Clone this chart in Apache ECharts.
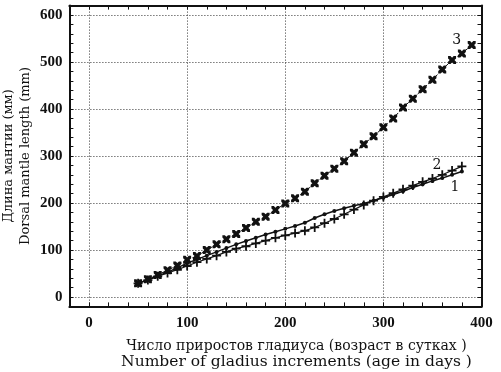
<!DOCTYPE html>
<html>
<head>
<meta charset="utf-8">
<script src="https://cdn.jsdelivr.net/npm/echarts@6/dist/echarts.min.js"></script>
<style>
  html, body { margin: 0; padding: 0; background: #fff; }
  #chart { width: 501px; height: 372px; }
</style>
</head>
<body>
<div id="chart"></div>
<script>
// age in days (x) for each curve
const days3 = [50,60,70,80,90,100,110,120,130,140,150,160,170,180,190,200,210,220,230,240,250,260,270,280,290,300,310,320,330,340,350,360,370,380,390]
const days12 = [50,60,70,80,90,100,110,120,130,140,150,160,170,180,190,200,210,220,230,240,250,260,270,280,290,300,310,320,330,340,350,360,370,380]
// dorsal mantle length, mm
const len1 = [29,37,45,53,62,72,80,88,96,104,112,119,126,133,139,145,151,158,168,176,183,189,194,199,205,211,218,225,233,240,247,253,260,267]
const len2 = [29,36,44,51,58,66,74,81,88,96,103,108,114,120,126,131,136,141,148,157,166,176,186,196,205,213,221,229,237,245,252,260,269,278]
const len3 = [29,38,47,57,67,79,87,100,112,123,134,147,160,171,185,199,210,224,242,258,273,289,307,325,342,361,380,403,422,442,462,484,504,518,536]
const curveNames = ['1', '2', '3']

const ink = '#111'
const serif = 'DejaVu Serif'

function pairs(xs, ys, name, offset) {
  return xs.map((x, i) => {
    const p = { value: [x, ys[i]] }
    if (i === xs.length - 1) {
      p.label = {
        show: true, formatter: name, position: 'inside', offset: offset,
        color: ink, fontFamily: serif, fontSize: 14
      }
    }
    return p
  })
}

// every 5th tick (multiples of 100) gets a dotted grid line
const gridColors = ['rgba(0,0,0,0)', '#333', 'rgba(0,0,0,0)', 'rgba(0,0,0,0)', 'rgba(0,0,0,0)']
const tickLabel = function (v) { return v >= 0 && v % 100 === 0 ? String(v) : '' }

const frameAxis = {
  axisLine: { show: true, onZero: false, lineStyle: { color: ink, width: 2 } },
  axisTick: { show: true, inside: true, length: 4, lineStyle: { color: ink } },
  axisLabel: { show: false },
  splitLine: { show: false }
}

const myChart = echarts.init(document.getElementById('chart'))
const option = {
  animation: false,
  grid: { left: 69.4, right: 19.5, top: 5.6, bottom: 65.6, outerBoundsMode: 'none', containLabel: false },
  xAxis: [
    {
      type: 'value', min: -20, max: 400, interval: 20,
      axisLine: { show: true, onZero: false, lineStyle: { color: ink, width: 2 } },
      axisTick: { show: true, inside: true, length: 4, lineStyle: { color: ink } },
      axisLabel: {
        formatter: tickLabel, color: ink, fontFamily: 'Liberation Serif',
        fontWeight: 'bold', fontSize: 15, margin: 9
      },
      splitLine: { show: true, lineStyle: { color: gridColors, type: [1, 2], width: 1 } },
      name: '{a|Число приростов гладиуса (возраст в сутках )}\n{b|Number of gladius increments (age in days )}',
      nameLocation: 'middle',
      nameGap: 32,
      nameTextStyle: {
        color: ink, fontFamily: serif, fontSize: 14, lineHeight: 16,
        padding: [0, 0, 0, 42],
        rich: {
          a: { fontFamily: serif, fontSize: 14, lineHeight: 16, color: ink },
          b: { fontFamily: serif, fontSize: 15.5, lineHeight: 16, color: ink }
        }
      }
    },
    Object.assign({ type: 'value', min: -20, max: 400, interval: 20, position: 'top' }, frameAxis)
  ],
  yAxis: [
    {
      type: 'value', min: -20, max: 620, interval: 20,
      axisLine: { show: true, onZero: false, lineStyle: { color: ink, width: 2 } },
      axisTick: { show: true, inside: true, length: 4, lineStyle: { color: ink } },
      axisLabel: {
        formatter: tickLabel, color: ink, fontFamily: 'Liberation Serif',
        fontWeight: 'bold', fontSize: 15, margin: 7
      },
      splitLine: { show: true, lineStyle: { color: gridColors, type: [1, 2], width: 1 } },
      name: 'Длина мантии (мм)\nDorsal mantle length (mm)',
      nameLocation: 'middle',
      nameRotate: 90,
      nameGap: 35,
      nameMoveOverlap: false,
      nameTextStyle: { color: ink, fontFamily: serif, fontSize: 13, lineHeight: 17 }
    },
    Object.assign({ type: 'value', min: -20, max: 620, interval: 20, position: 'right' }, frameAxis)
  ],
  series: [
    {
      name: curveNames[0], type: 'line',
      data: pairs(days12, len1, curveNames[0], [-7, 16]),
      symbol: 'circle', symbolSize: 4,
      itemStyle: { color: ink },
      lineStyle: { color: ink, width: 1.5 }
    },
    {
      name: curveNames[1], type: 'line',
      data: pairs(days12, len2, curveNames[1], [-25, -1]),
      symbol: 'path://M4,0H6V4H10V6H6V10H4V6H0V4H4Z', symbolSize: 9,
      itemStyle: { color: ink },
      lineStyle: { color: ink, width: 1.2 }
    },
    {
      name: curveNames[2], type: 'line',
      data: pairs(days3, len3, curveNames[2], [-15, -5]),
      symbol: 'path://M0,0L3,0L5,2L7,0L10,0L10,3L8,5L10,7L10,10L7,10L5,8L3,10L0,10L0,7L2,5L0,3Z', symbolSize: 8,
      itemStyle: { color: ink },
      lineStyle: { color: ink, width: 1, type: [3, 2] }
    }
  ]
}
myChart.setOption(option)
</script>
</body>
</html>
